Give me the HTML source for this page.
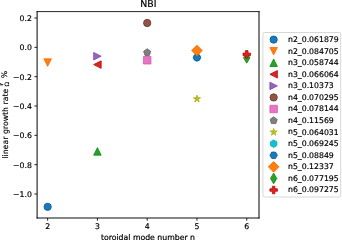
<!DOCTYPE html>
<html><head><meta charset="utf-8"><title>NBI</title>
<style>html,body{margin:0;padding:0;background:#fff;overflow:hidden}svg{display:block}text{stroke:#000;stroke-width:0.2px}.yl text{stroke-width:0.14px}</style>
</head><body>
<svg width="342" height="240" viewBox="0 0 342 240" font-family="'DejaVu Sans', 'Liberation Sans', sans-serif" font-size="7.75" fill="#000">
<rect width="342" height="240" fill="#fff"/>
<circle cx="47.65" cy="206.80" r="3.650" fill="#1f77b4" stroke="#0059a3" stroke-width="0.800"/>
<polygon points="47.65,66.35 43.90,58.85 51.40,58.85" fill="#ff7f0e" stroke="#ff6200" stroke-width="0.800" stroke-linejoin="miter"/>
<polygon points="97.42,147.65 93.67,155.15 101.17,155.15" fill="#2ca02c" stroke="#008b00" stroke-width="0.800" stroke-linejoin="miter"/>
<polygon points="93.67,64.60 101.17,60.85 101.17,68.35" fill="#d62728" stroke="#cc0000" stroke-width="0.800" stroke-linejoin="miter"/>
<polygon points="101.17,56.20 93.67,52.45 93.67,59.95" fill="#9467bd" stroke="#7c45ae" stroke-width="0.800" stroke-linejoin="miter"/>
<circle cx="147.20" cy="23.00" r="3.650" fill="#8c564b" stroke="#723023" stroke-width="0.800"/>
<polygon points="147.20,48.75 150.77,51.34 149.40,55.53 145.00,55.53 143.63,51.34" fill="#7f7f7f" stroke="#626262" stroke-width="0.800" stroke-linejoin="miter"/>
<polygon points="143.45,56.50 150.95,56.50 150.95,64.00 143.45,64.00" fill="#e377c2" stroke="#dc59b4" stroke-width="0.800" stroke-linejoin="miter"/>
<polygon points="196.97,95.15 197.82,97.74 200.54,97.74 198.34,99.34 199.18,101.93 196.97,100.33 194.77,101.93 195.61,99.34 193.41,97.74 196.13,97.74" fill="#bcbd22" stroke="#adae00" stroke-width="0.800" stroke-linejoin="bevel"/>
<polygon points="196.97,53.75 200.22,55.62 200.22,59.38 196.97,61.25 193.73,59.38 193.73,55.62" fill="#17becf" stroke="#00afc4" stroke-width="0.800" stroke-linejoin="miter"/>
<polygon points="198.85,54.25 200.72,57.50 198.85,60.75 195.10,60.75 193.22,57.50 195.10,54.25" fill="#1f77b4" stroke="#0059a3" stroke-width="0.800" stroke-linejoin="miter"/>
<polygon points="196.97,45.20 202.28,50.50 196.97,55.80 191.67,50.50" fill="#ff7f0e" stroke="#ff6200" stroke-width="0.800" stroke-linejoin="miter"/>
<polygon points="246.75,52.54 249.93,57.84 246.75,63.14 243.57,57.84" fill="#2ca02c" stroke="#008b00" stroke-width="0.800" stroke-linejoin="miter"/>
<polygon points="245.50,50.60 248.00,50.60 248.00,53.10 250.50,53.10 250.50,55.60 248.00,55.60 248.00,58.10 245.50,58.10 245.50,55.60 243.00,55.60 243.00,53.10 245.50,53.10" fill="#d62728" stroke="#cc0000" stroke-width="0.800" stroke-linejoin="miter"/>
<line x1="37.10" y1="11.60" x2="37.10" y2="218.00" stroke="#000" stroke-width="1.00" stroke-linecap="square"/>
<line x1="259.00" y1="11.60" x2="259.00" y2="218.00" stroke="#000" stroke-width="1.00" stroke-linecap="square"/>
<line x1="37.10" y1="11.60" x2="259.00" y2="11.60" stroke="#000" stroke-width="0.85" stroke-linecap="square"/>
<line x1="37.10" y1="218.00" x2="259.00" y2="218.00" stroke="#000" stroke-width="0.95" stroke-linecap="square"/>
<line x1="47.65" y1="218.00" x2="47.65" y2="220.70" stroke="#000" stroke-width="0.85"/>
<text x="47.65" y="229.45" text-anchor="middle" transform="rotate(0.02 47.65 229.45)">2</text>
<line x1="97.42" y1="218.00" x2="97.42" y2="220.70" stroke="#000" stroke-width="0.85"/>
<text x="97.42" y="229.45" text-anchor="middle" transform="rotate(0.02 97.42 229.45)">3</text>
<line x1="147.20" y1="218.00" x2="147.20" y2="220.70" stroke="#000" stroke-width="0.85"/>
<text x="147.20" y="229.45" text-anchor="middle" transform="rotate(0.02 147.20 229.45)">4</text>
<line x1="196.97" y1="218.00" x2="196.97" y2="220.70" stroke="#000" stroke-width="0.85"/>
<text x="196.97" y="229.45" text-anchor="middle" transform="rotate(0.02 196.97 229.45)">5</text>
<line x1="246.75" y1="218.00" x2="246.75" y2="220.70" stroke="#000" stroke-width="0.85"/>
<text x="246.75" y="229.45" text-anchor="middle" transform="rotate(0.02 246.75 229.45)">6</text>
<line x1="34.40" y1="18.00" x2="37.10" y2="18.00" stroke="#000" stroke-width="0.85"/>
<text x="31.95" y="21.00" text-anchor="end" transform="rotate(0.02 31.95 21.00)">0.2</text>
<line x1="34.40" y1="47.33" x2="37.10" y2="47.33" stroke="#000" stroke-width="0.85"/>
<text x="31.95" y="50.33" text-anchor="end" transform="rotate(0.02 31.95 50.33)">0.0</text>
<line x1="34.40" y1="76.66" x2="37.10" y2="76.66" stroke="#000" stroke-width="0.85"/>
<text x="31.95" y="79.66" text-anchor="end" transform="rotate(0.02 31.95 79.66)">−0.2</text>
<line x1="34.40" y1="106.00" x2="37.10" y2="106.00" stroke="#000" stroke-width="0.85"/>
<text x="31.95" y="109.00" text-anchor="end" transform="rotate(0.02 31.95 109.00)">−0.4</text>
<line x1="34.40" y1="135.33" x2="37.10" y2="135.33" stroke="#000" stroke-width="0.85"/>
<text x="31.95" y="138.33" text-anchor="end" transform="rotate(0.02 31.95 138.33)">−0.6</text>
<line x1="34.40" y1="164.67" x2="37.10" y2="164.67" stroke="#000" stroke-width="0.85"/>
<text x="31.95" y="167.67" text-anchor="end" transform="rotate(0.02 31.95 167.67)">−0.8</text>
<line x1="34.40" y1="194.00" x2="37.10" y2="194.00" stroke="#000" stroke-width="0.85"/>
<text x="31.95" y="197.00" text-anchor="end" transform="rotate(0.02 31.95 197.00)">−1.0</text>
<text x="148.35" y="6.85" text-anchor="middle" font-size="9.40" transform="rotate(0.02 148.35 6.85)">NBI</text>
<text x="147.95" y="239.90" text-anchor="middle" transform="rotate(0.02 147.95 239.90)">toroidal mode number n</text>
<g transform="translate(7.40,0) rotate(-89.98)" style="stroke-width:0.05px" class="yl">
<text x="-158.7" y="0.4" letter-spacing="0.03">linear growth rate</text>
<text x="-85.9" y="-5.2" font-size="5.4" font-style="italic">γ</text>
<text x="-86.6" y="2.0" font-size="6.0">Ω</text>
<text x="-78.2" y="0">%</text>
</g>
<rect x="262.90" y="32.50" width="77.80" height="164.50" rx="1.5" ry="1.5" fill="#fff" fill-opacity="0.8" stroke="#ccc" stroke-width="0.78"/>
<circle cx="273.65" cy="39.60" r="3.650" fill="#1f77b4" stroke="#0059a3" stroke-width="0.800"/>
<text x="288.00" y="41.95" transform="rotate(0.02 288.00 41.95)">n2_0.061879</text>
<polygon points="273.65,54.92 269.90,47.42 277.40,47.42" fill="#ff7f0e" stroke="#ff6200" stroke-width="0.800" stroke-linejoin="miter"/>
<text x="288.00" y="53.52" transform="rotate(0.02 288.00 53.52)">n2_0.084705</text>
<polygon points="273.65,58.99 269.90,66.49 277.40,66.49" fill="#2ca02c" stroke="#008b00" stroke-width="0.800" stroke-linejoin="miter"/>
<text x="288.00" y="65.09" transform="rotate(0.02 288.00 65.09)">n3_0.058744</text>
<polygon points="269.90,74.31 277.40,70.56 277.40,78.06" fill="#d62728" stroke="#cc0000" stroke-width="0.800" stroke-linejoin="miter"/>
<text x="288.00" y="76.66" transform="rotate(0.02 288.00 76.66)">n3_0.066064</text>
<polygon points="277.40,85.88 269.90,82.13 269.90,89.63" fill="#9467bd" stroke="#7c45ae" stroke-width="0.800" stroke-linejoin="miter"/>
<text x="288.00" y="88.23" transform="rotate(0.02 288.00 88.23)">n3_0.10373</text>
<circle cx="273.65" cy="97.45" r="3.650" fill="#8c564b" stroke="#723023" stroke-width="0.800"/>
<text x="288.00" y="99.80" transform="rotate(0.02 288.00 99.80)">n4_0.070295</text>
<polygon points="269.90,105.27 277.40,105.27 277.40,112.77 269.90,112.77" fill="#e377c2" stroke="#dc59b4" stroke-width="0.800" stroke-linejoin="miter"/>
<text x="288.00" y="111.37" transform="rotate(0.02 288.00 111.37)">n4_0.078144</text>
<polygon points="273.65,116.84 277.22,119.43 275.85,123.62 271.45,123.62 270.08,119.43" fill="#7f7f7f" stroke="#626262" stroke-width="0.800" stroke-linejoin="miter"/>
<text x="288.00" y="122.94" transform="rotate(0.02 288.00 122.94)">n4_0.11569</text>
<polygon points="273.65,128.41 274.49,131.00 277.22,131.00 275.01,132.60 275.85,135.19 273.65,133.59 271.45,135.19 272.29,132.60 270.08,131.00 272.81,131.00" fill="#bcbd22" stroke="#adae00" stroke-width="0.800" stroke-linejoin="bevel"/>
<text x="288.00" y="134.51" transform="rotate(0.02 288.00 134.51)">n5_0.064031</text>
<polygon points="273.65,139.98 276.90,141.85 276.90,145.60 273.65,147.48 270.40,145.60 270.40,141.85" fill="#17becf" stroke="#00afc4" stroke-width="0.800" stroke-linejoin="miter"/>
<text x="288.00" y="146.08" transform="rotate(0.02 288.00 146.08)">n5_0.069245</text>
<polygon points="275.52,152.05 277.40,155.30 275.52,158.55 271.77,158.55 269.90,155.30 271.77,152.05" fill="#1f77b4" stroke="#0059a3" stroke-width="0.800" stroke-linejoin="miter"/>
<text x="288.00" y="157.65" transform="rotate(0.02 288.00 157.65)">n5_0.08849</text>
<polygon points="273.65,161.57 278.95,166.87 273.65,172.17 268.35,166.87" fill="#ff7f0e" stroke="#ff6200" stroke-width="0.800" stroke-linejoin="miter"/>
<text x="288.00" y="169.22" transform="rotate(0.02 288.00 169.22)">n5_0.12337</text>
<polygon points="273.65,173.14 276.83,178.44 273.65,183.74 270.47,178.44" fill="#2ca02c" stroke="#008b00" stroke-width="0.800" stroke-linejoin="miter"/>
<text x="288.00" y="180.79" transform="rotate(0.02 288.00 180.79)">n6_0.077195</text>
<polygon points="272.40,186.26 274.90,186.26 274.90,188.76 277.40,188.76 277.40,191.26 274.90,191.26 274.90,193.76 272.40,193.76 272.40,191.26 269.90,191.26 269.90,188.76 272.40,188.76" fill="#d62728" stroke="#cc0000" stroke-width="0.800" stroke-linejoin="miter"/>
<text x="288.00" y="192.36" transform="rotate(0.02 288.00 192.36)">n6_0.097275</text>
</svg>
</body></html>
